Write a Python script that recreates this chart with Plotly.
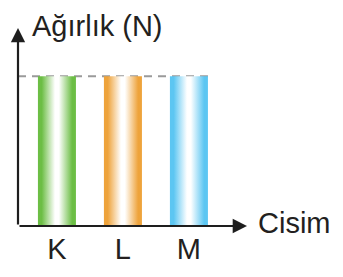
import plotly.graph_objects as go

# ---- data ----
categories = ["K", "L", "M"]
weights = [10, 10, 10]
bar_colors = ["#6cbe45", "#eea33b", "#5cc6f2"]
y_title = "Ağırlık (N)"
x_title = "Cisim"

half_w = 0.288
x_min, x_max = -0.59, 2.88
y_min, y_max = 0, 13.22

fig = go.Figure()

for i, (cat, val, col) in enumerate(zip(categories, weights, bar_colors)):
    xs = [i - half_w, i + half_w, i + half_w, i - half_w, i - half_w]
    ys = [0, 0, val, val, 0]
    fig.add_trace(go.Scatter(
        x=xs, y=ys, mode="lines", fill="toself",
        line=dict(width=0, color=col),
        fillgradient=dict(
            type="horizontal",
            colorscale=[[0, col], [0.1, col], [0.45, "#ffffff"], [0.55, "#ffffff"],
                        [0.9, col], [1, col]],
        ),
        hoverinfo="skip", showlegend=False,
    ))

# dashed reference line at bar height
fig.add_shape(type="line", xref="x", yref="y",
              x0=x_min, x1=len(categories) - 1 + half_w, y0=max(weights), y1=max(weights),
              line=dict(color="#9a9a9a", width=2, dash="8px,6px"), layer="below")

# axes with arrows
fig.add_annotation(x=x_max, y=0, ax=x_min, ay=0, xref="x", yref="y", axref="x", ayref="y",
                   text="", showarrow=True, arrowhead=2, arrowsize=1.3, arrowwidth=2.2,
                   arrowcolor="#1e1e1e")
fig.add_annotation(x=x_min, y=y_max, ax=x_min, ay=0, xref="x", yref="y", axref="x", ayref="y",
                   text="", showarrow=True, arrowhead=2, arrowsize=1.3, arrowwidth=2.2,
                   arrowcolor="#1e1e1e")

fig.add_annotation(x=x_min, y=y_max, xref="x", yref="y", text=y_title, showarrow=False,
                   xanchor="left", yanchor="middle", xshift=12, yshift=2,
                   font=dict(family="Liberation Sans, Arial", size=29, color="#231f20"))
fig.add_annotation(x=x_max, y=0, xref="x", yref="y", text=x_title, showarrow=False,
                   xanchor="left", yanchor="middle", xshift=9, yshift=3,
                   font=dict(family="Liberation Sans, Arial", size=29, color="#231f20"))

fig.update_layout(
    width=343, height=277,
    margin=dict(l=18, r=96, t=28, b=48),
    paper_bgcolor="white", plot_bgcolor="white",
    xaxis=dict(range=[x_min, x_max], tickmode="array", tickvals=list(range(len(categories))),
               ticktext=categories, showgrid=False, zeroline=False, showline=False,
               ticks="", ticklabelstandoff=3,
               tickfont=dict(family="Liberation Sans, Arial", size=29, color="#231f20"),
               fixedrange=True),
    yaxis=dict(range=[y_min, y_max], showticklabels=False, showgrid=False, zeroline=False,
               showline=False, ticks="", fixedrange=True),
    showlegend=False,
)

fig.write_html("out.html")
